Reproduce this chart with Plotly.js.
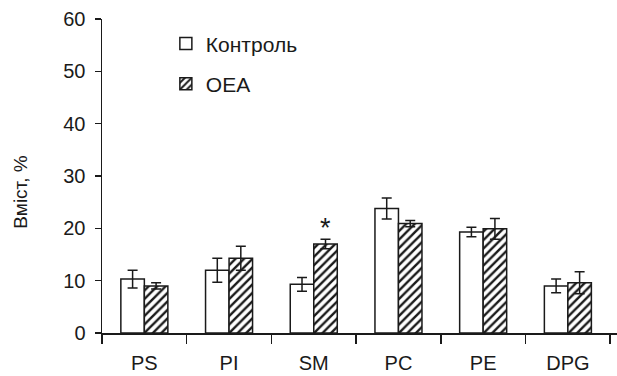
<!DOCTYPE html>
<html>
<head>
<meta charset="utf-8">
<script src="https://cdn.plot.ly/plotly-3.0.1.min.js"></script>
<style>html,body{margin:0;padding:0;background:#fff;}#chart{width:617px;height:376px;}</style>
</head>
<body>
<div id="chart"></div>
<script>
const categories = ['PS', 'PI', 'SM', 'PC', 'PE', 'DPG'];
const control    = [10.3, 12.0, 9.3, 23.8, 19.3, 9.0];
const controlErr = [1.7, 2.3, 1.3, 2.0, 0.9, 1.3];
const oea        = [9.0, 14.3, 17.0, 20.9, 19.9, 9.6];
const oeaErr     = [0.6, 2.3, 0.9, 0.6, 2.0, 2.1];
const seriesNames = ['Контроль', 'OEA'];
const yTicks = [0, 10, 20, 30, 40, 50, 60];

const FONT = 'Liberation Sans, Arial, sans-serif';
const INK = '#1a1a1a';

const traces = [
  {
    type: 'bar', name: seriesNames[0], x: categories, y: control,
    marker: { color: '#ffffff', line: { color: INK, width: 1.5 } },
    error_y: { type: 'data', array: controlErr, visible: true, color: INK, thickness: 1.5, width: 5 },
    legend: 'legend'
  },
  {
    type: 'bar', name: seriesNames[1], x: categories, y: oea,
    marker: {
      color: '#ffffff', line: { color: INK, width: 1.5 },
      pattern: { shape: '/', fgcolor: INK, bgcolor: '#ffffff', size: 6, solidity: 0.4 }
    },
    error_y: { type: 'data', array: oeaErr, visible: true, color: INK, thickness: 1.5, width: 5 },
    legend: 'legend2'
  }
];

const legendCommon = {
  xanchor: 'left', yanchor: 'middle', bgcolor: 'rgba(0,0,0,0)',
  font: { family: FONT, size: 21, color: INK }, itemwidth: 30
};

const layout = {
  width: 617, height: 376,
  margin: { l: 102, r: 0, t: 19, b: 43 },
  paper_bgcolor: '#ffffff', plot_bgcolor: '#ffffff',
  barmode: 'group', bargap: 0.445, bargroupgap: 0,
  font: { family: FONT, color: INK },
  showlegend: true,
  legend: Object.assign({}, legendCommon, { x: 0.124, y: 0.921 }),
  legend2: Object.assign({}, legendCommon, { x: 0.124, y: 0.793 }),
  xaxis: {
    type: 'category', range: [-0.5, 5.58], tickson: 'boundaries',
    ticks: 'outside', ticklen: 9, tickwidth: 1.5, tickcolor: INK,
    showline: true, linecolor: INK, linewidth: 1.5, showgrid: false, zeroline: false,
    tickfont: { family: FONT, size: 20, color: INK }, ticklabelstandoff: 11
  },
  yaxis: {
    range: [0, 60], tickvals: yTicks, ticktext: yTicks.map(String),
    ticks: 'outside', ticklen: 6, tickwidth: 1.5, tickcolor: INK,
    showline: true, linecolor: INK, linewidth: 1.5, showgrid: false, zeroline: false,
    tickfont: { family: FONT, size: 20, color: INK }, ticklabelstandoff: 5
  },
  annotations: [
    { text: 'Вміст, %', textangle: -90, xref: 'paper', yref: 'paper', x: 0, y: 0.447,
      xanchor: 'center', yanchor: 'middle', xshift: -81, showarrow: false,
      font: { family: FONT, size: 19, color: INK } },
    { text: '*', xref: 'x', yref: 'y', x: categories[2], y: 20.0, xshift: 12,
      xanchor: 'center', yanchor: 'middle', showarrow: false,
      font: { family: FONT, size: 27, color: INK } }
  ]
};

Plotly.newPlot('chart', traces, layout, { displayModeBar: false, staticPlot: true });
</script>
</body>
</html>
